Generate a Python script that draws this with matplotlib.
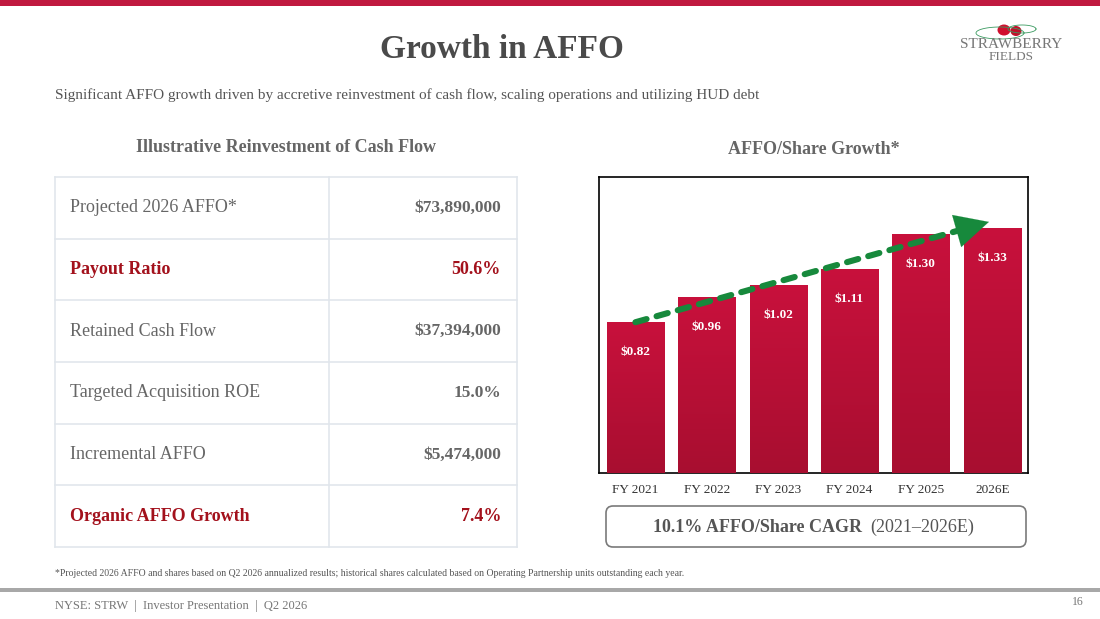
import numpy as np
import matplotlib
matplotlib.use("Agg")
import matplotlib.pyplot as plt
from matplotlib.patches import FancyBboxPatch, Rectangle, Ellipse
from matplotlib.colors import LinearSegmentedColormap

plt.rcParams['font.family'] = ['Liberation Serif', 'DejaVu Serif']

# ==============================
# DATA
# ==============================
years = ["FY 2021", "FY 2022", "FY 2023", "FY 2024", "FY 2025", "2026E"]
affo_per_share = [0.82, 0.96, 1.02, 1.11, 1.30, 1.33]

table_labels = ["Projected 2026 AFFO*", "Payout Ratio", "Retained Cash Flow",
                "Targeted Acquisition ROE", "Incremental AFFO", "Organic AFFO Growth"]
table_values = ["$73,890,000", "50.6%", "$37,394,000", "15.0%", "$5,474,000", "7.4%"]
highlight_rows = [1, 5]

title = "Growth in AFFO"
subtitle = ("Significant AFFO growth driven by accretive reinvestment of cash flow, "
            "scaling operations and utilizing HUD debt")
footnote = ("*Projected 2026 AFFO and shares based on Q2 2026 annualized results; historical "
            "shares calculated based on Operating Partnership units outstanding each year.")
footer = "NYSE: STRW  |  Investor Presentation  |  Q2 2026"
page_no = "16"

RED = "#c0193f"
DARK_RED = "#a3111c"
GRAY = "#666666"
GREEN = "#17893c"

W, H = 1100, 619
fig = plt.figure(figsize=(W / 100, H / 100), dpi=100)
fig.patch.set_facecolor("white")

# background axes in pixel coordinates
bg = fig.add_axes([0, 0, 1, 1])
bg.set_xlim(0, W)
bg.set_ylim(H, 0)
bg.axis("off")

# top band and footer rule
bg.add_patch(Rectangle((0, 0), W, 6, color=RED, lw=0))
bg.add_patch(Rectangle((0, 588), W, 4, color="#a8a8a8", lw=0))

# titles
bg.text(502, 50, title, ha="center", va="center", fontsize=24, fontweight="bold", color="#4a4a4a")
bg.text(55, 95, subtitle, ha="left", va="center", fontsize=11, color="#555555")
bg.text(286, 147, "Illustrative Reinvestment of Cash Flow", ha="center", va="center",
        fontsize=13, fontweight="bold", color=GRAY)
bg.text(814, 150, "AFFO/Share Growth*", ha="center", va="center",
        fontsize=13, fontweight="bold", color=GRAY)

# logo
t = np.linspace(0, 2 * np.pi, 100)
bg.plot(1000 + 24 * np.cos(t), 33 + 6 * np.sin(t), color="#3a9a60", lw=0.6)
bg.plot(1022 + 14 * np.cos(t), 29 + 4 * np.sin(t), color="#3a9a60", lw=0.6)
bg.add_patch(Ellipse((1004, 30), 13, 11, color="#d0102e", lw=0))
bg.add_patch(Ellipse((1016, 31), 11, 10, color="#c0102a", lw=0))
bg.text(1011, 44, "STRAWBERRY", ha="center", va="center", fontsize=11, color="#777777")
bg.text(1011, 57, "FIELDS", ha="center", va="center", fontsize=9.5, color="#777777")

# ==============================
# TABLE
# ==============================
tx0, tx1, tsplit = 55, 517, 329
ty0, ty1 = 177, 547
n_rows = len(table_labels)
row_h = (ty1 - ty0) / n_rows
line_c = "#e1e6ec"
for i in range(n_rows + 1):
    y = ty0 + i * row_h
    bg.plot([tx0, tx1], [y, y], color=line_c, lw=1.2)
bg.plot([tx0, tx0], [ty0, ty1], color=line_c, lw=1.2)
bg.plot([tx1, tx1], [ty0, ty1], color=line_c, lw=1.2)
bg.plot([tsplit, tsplit], [ty0, ty1], color=line_c, lw=1.2)

for i, (lab, val) in enumerate(zip(table_labels, table_values)):
    yc = ty0 + (i + 0.5) * row_h
    if i in highlight_rows:
        bg.text(70, yc, lab, ha="left", va="center", fontsize=13, fontweight="bold", color=DARK_RED)
        bg.text(501, yc, val, ha="right", va="center", fontsize=13, fontweight="bold", color=DARK_RED)
    else:
        bg.text(70, yc, lab, ha="left", va="center", fontsize=13, color=GRAY)
        bg.text(501, yc, val, ha="right", va="center", fontsize=12.5, fontweight="bold", color=GRAY)

# ==============================
# BAR CHART
# ==============================
ax = fig.add_axes([599 / W, 1 - 473 / H, 429 / W, 296 / H])
x = np.arange(len(years))
bars = ax.bar(x, affo_per_share, width=0.8, color=RED, zorder=2)

cmap = LinearSegmentedColormap.from_list("bar", ["#a80e30", "#c8113c"])
grad = np.linspace(0, 1, 256).reshape(-1, 1)
for b in bars:
    im = ax.imshow(grad, cmap=cmap, aspect="auto", origin="lower", zorder=3,
                   extent=[b.get_x(), b.get_x() + b.get_width(), 0, b.get_height()])
    im.set_clip_path(b)

for xi, v in zip(x, affo_per_share):
    ax.annotate(f"${v:.2f}", (xi, v), xytext=(0, -30), textcoords="offset pixels",
                ha="center", va="center", fontsize=9.5, fontweight="bold", color="white", zorder=5)

# trend arrow from first to last bar
x_start, y_start = x[0], affo_per_share[0]
x_tip, y_tip = x[-1] - 0.01, affo_per_share[-1] + 0.04
slope = (y_tip - y_start) / (x_tip - x_start)
x_line = x_tip - 0.3
ax.plot([x_start, x_line], [y_start, y_start + slope * x_line], color=GREEN, lw=4.4,
        linestyle=(0, (1.9, 1.7)), zorder=6, dash_capstyle="round")
ax.annotate("", xy=(x_tip, y_tip), xytext=(x_line - 0.05, y_start + slope * (x_line - 0.05)),
            arrowprops=dict(arrowstyle="-|>,head_length=1.2,head_width=0.6", color=GREEN,
                            lw=0.1, mutation_scale=20), zorder=7)

ax.set_xlim(-0.51, 5.5)
ax.set_ylim(0, 1.61)
ax.set_yticks([])
ax.set_xticks(x)
ax.set_xticklabels(years, fontsize=9.5, color="#333333")
ax.tick_params(axis="x", length=0, pad=8)
for s in ax.spines.values():
    s.set_color("black")
    s.set_linewidth(1.2)

# CAGR box
bg.add_patch(FancyBboxPatch((606, 506), 420, 41, boxstyle="round,pad=0,rounding_size=7",
                            fc="white", ec="#7a7a7a", lw=1.2))
bg.text(862, 527, "10.1% AFFO/Share CAGR", ha="right", va="center", fontsize=13,
        fontweight="bold", color="#555555")
bg.text(870, 527, "(2021\u20132026E)", ha="left", va="center", fontsize=13, color="#555555")

# footnote and footer
bg.text(55, 573, footnote, ha="left", va="center", fontsize=7, color="#555555")
bg.text(55, 606, footer, ha="left", va="center", fontsize=9, color="#777777")
bg.text(1078, 602, page_no, ha="center", va="center", fontsize=8.5, color="#777777")

fig.savefig("out.png", dpi=100, facecolor="white")
